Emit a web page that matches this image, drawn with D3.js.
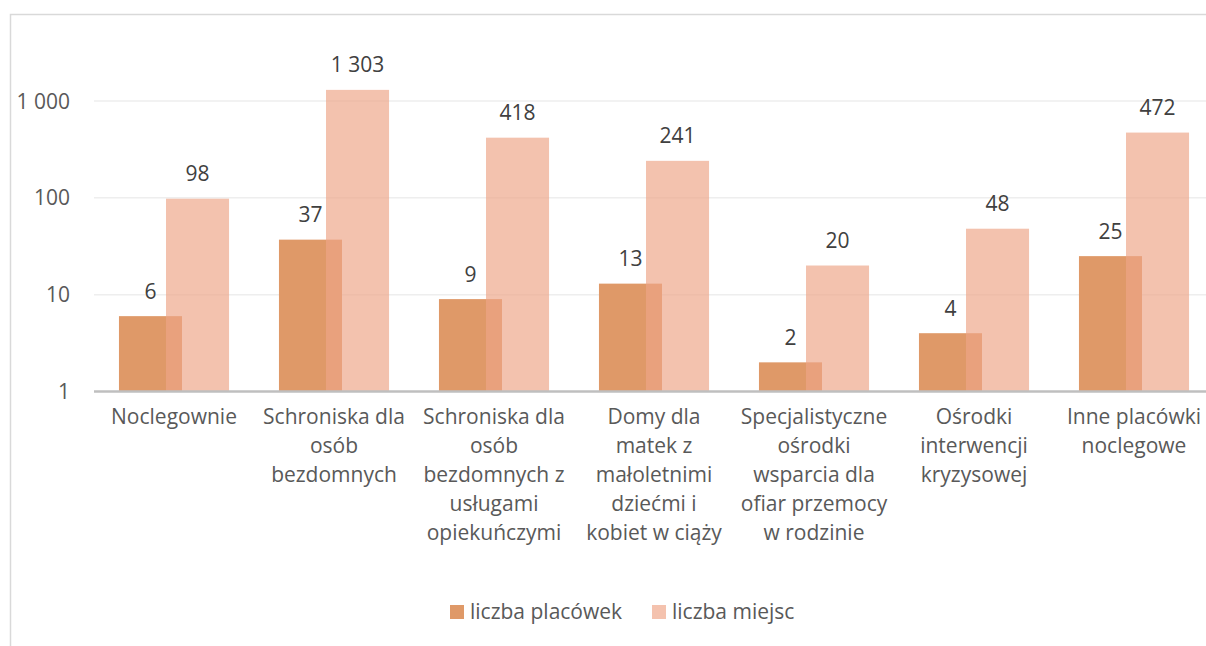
<!DOCTYPE html>
<html>
<head>
<meta charset="utf-8">
<script src="https://cdn.jsdelivr.net/npm/d3@7"></script>
<style>
  body { margin: 0; background: #fff; }
  svg { display: block; font-family: "Open Sans", sans-serif; }
</style>
</head>
<body>
<div id="chart"></div>
<script>
const width = 1206;
const height = 646;

// data
const categories = [
  ["Noclegownie"],
  ["Schroniska dla", "osób", "bezdomnych"],
  ["Schroniska dla", "osób", "bezdomnych z", "usługami", "opiekuńczymi"],
  ["Domy dla", "matek z", "małoletnimi", "dziećmi i", "kobiet w ciąży"],
  ["Specjalistyczne", "ośrodki", "wsparcia dla", "ofiar przemocy", "w rodzinie"],
  ["Ośrodki", "interwencji", "kryzysowej"],
  ["Inne placówki", "noclegowe"]
];
const placowki = [6, 37, 9, 13, 2, 4, 25];
const miejsca = [98, 1303, 418, 241, 20, 48, 472];
const seriesNames = ["liczba placówek", "liczba miejsc"];
const yTicks = [1, 10, 100, 1000];

const colDark = "#df9968";
const colLight = "#eda587";

const plot = { left: 94, right: 1214, top: 101, bottom: 391.5 };

const svg = d3.select("#chart").append("svg")
  .attr("width", width)
  .attr("height", height);

// chart frame
svg.append("rect")
  .attr("x", 10.5).attr("y", 14.5)
  .attr("width", 1300).attr("height", 800)
  .attr("fill", "none")
  .attr("stroke", "#d9d9d9")
  .attr("stroke-width", 1.5);

const names = categories.map((d) => d.join(" "));

const x = d3.scaleBand()
  .domain(names)
  .range([plot.left, plot.right])
  .padding(0);

const y = d3.scaleLog()
  .domain([1, 1000])
  .range([plot.bottom, plot.top]);

const bw = x.bandwidth();
const barW = bw * 0.394;
const shift = bw * 0.147;

// gridlines
svg.append("g")
  .selectAll("line")
  .data(yTicks.slice(1))
  .join("line")
  .attr("x1", plot.left)
  .attr("x2", width)
  .attr("y1", (d) => y(d))
  .attr("y2", (d) => y(d))
  .attr("stroke", "#eeeeee")
  .attr("stroke-width", 1.5);

// y tick labels
svg.append("g")
  .selectAll("text")
  .data(yTicks)
  .join("text")
  .attr("x", 70)
  .attr("y", (d) => y(d))
  .attr("dy", "0.36em")
  .attr("text-anchor", "end")
  .attr("fill", "#595959")
  .attr("font-size", 21)
  .text((d) => d3.format(",")(d).replace(/,/g, " "));

const rows = names.map((n, i) => ({ name: n, p: placowki[i], m: miejsca[i] }));
const center = (d) => x(d.name) + bw / 2;

// dark bars
svg.append("g")
  .selectAll("rect")
  .data(rows)
  .join("rect")
  .attr("x", (d) => center(d) - shift - barW / 2)
  .attr("y", (d) => y(d.p))
  .attr("width", barW)
  .attr("height", (d) => y(1) - y(d.p))
  .attr("fill", colDark);

// light bars, semi transparent over the dark ones
svg.append("g")
  .selectAll("rect")
  .data(rows)
  .join("rect")
  .attr("x", (d) => center(d) + shift - barW / 2)
  .attr("y", (d) => y(d.m))
  .attr("width", barW)
  .attr("height", (d) => y(1) - y(d.m))
  .attr("fill", colLight)
  .attr("fill-opacity", 0.68);

// axis line
svg.append("line")
  .attr("x1", plot.left).attr("x2", width)
  .attr("y1", plot.bottom).attr("y2", plot.bottom)
  .attr("stroke", "#bfbfbf")
  .attr("stroke-width", 2.5);

// data labels
const fmt = (v) => d3.format(",")(v).replace(/,/g, " ");
svg.append("g")
  .selectAll("text")
  .data(rows)
  .join("text")
  .attr("x", (d) => center(d) - shift)
  .attr("y", (d) => y(d.p) - 17.5)
  .attr("text-anchor", "middle")
  .attr("fill", "#404040")
  .attr("font-size", 21)
  .text((d) => fmt(d.p));

svg.append("g")
  .selectAll("text")
  .data(rows)
  .join("text")
  .attr("x", (d) => center(d) + shift)
  .attr("y", (d) => y(d.m) - 17.5)
  .attr("text-anchor", "middle")
  .attr("fill", "#404040")
  .attr("font-size", 21)
  .text((d) => fmt(d.m));

// category labels
const catG = svg.append("g")
  .selectAll("text")
  .data(categories)
  .join("text")
  .attr("text-anchor", "middle")
  .attr("fill", "#595959")
  .attr("font-size", 21)
  .attr("x", (d, i) => x(names[i]) + bw / 2)
  .attr("y", 424);

catG.selectAll("tspan")
  .data((d) => d)
  .join("tspan")
  .attr("x", function () { return this.parentNode.getAttribute("x"); })
  .attr("y", (d, j) => 424 + j * 29)
  .text((d) => d);

// legend
const legend = svg.append("g").attr("transform", "translate(450,605)");
const legendX = [0, 202];
const legendItems = legend.selectAll("g")
  .data(seriesNames)
  .join("g")
  .attr("transform", (d, i) => `translate(${legendX[i]},0)`);

legendItems.append("rect")
  .attr("width", 14).attr("height", 14)
  .attr("fill", (d, i) => (i === 0 ? colDark : "#f4c2ae"));

legendItems.append("text")
  .attr("x", 20)
  .attr("y", 14)
  .attr("fill", "#595959")
  .attr("font-size", 21)
  .text((d) => d);
</script>
</body>
</html>
